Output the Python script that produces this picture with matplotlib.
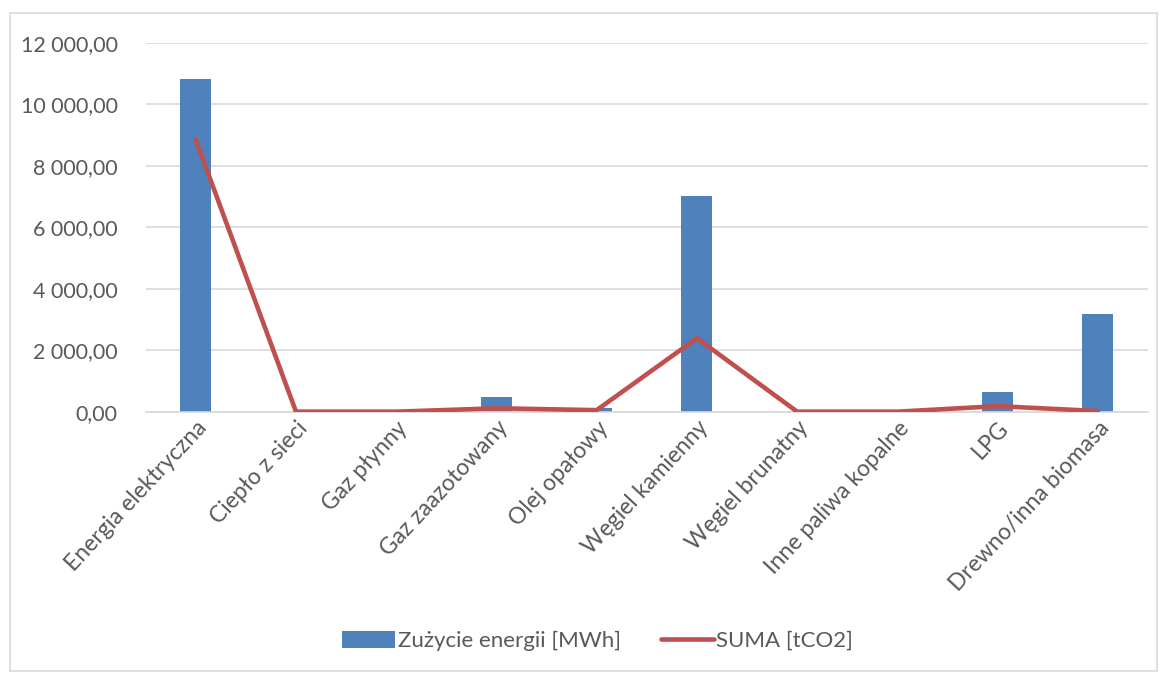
import matplotlib
matplotlib.use('Agg')
import matplotlib.pyplot as plt
import matplotlib.ticker as mticker
from matplotlib.patches import Rectangle
import numpy as np

kategorie = ['Energia elektryczna', 'Ciepło z sieci', 'Gaz płynny', 'Gaz zaazotowany',
             'Olej opałowy', 'Węgiel kamienny', 'Węgiel brunatny', 'Inne paliwa kopalne',
             'LPG', 'Drewno/inna biomasa']
zuzycie_mwh = [10820, 0, 0, 490, 110, 7010, 0, 0, 650, 3170]
suma_tco2 = [8840, 0, 0, 110, 50, 2390, 0, 0, 180, 20]

plt.rcParams['font.family'] = ['Lato', 'DejaVu Sans']
kolor_tekstu = '#595959'

fig = plt.figure(figsize=(11.65, 6.73), dpi=100)
ax = fig.add_axes([0.125, 0.3883, 0.8604, 0.5483])

# ramka wokół całego wykresu
fig.patches.append(Rectangle((0.009, 0.003), 0.984, 0.978, transform=fig.transFigure,
                             fill=False, edgecolor='#d9d9d9', linewidth=1.2))

x = np.arange(len(kategorie))
slupki = ax.bar(x, zuzycie_mwh, width=0.31, color='#4f81bd', zorder=2,
                label='Zużycie energii [MWh]')
linia, = ax.plot(x, suma_tco2, color='#c0504d', linewidth=3.3, zorder=3,
                 solid_capstyle='round', solid_joinstyle='round', label='SUMA [tCO2]')

ax.set_xlim(-0.5, len(kategorie) - 0.5)
ax.set_ylim(0, 12000)
ax.yaxis.set_major_locator(mticker.MultipleLocator(2000))
ax.yaxis.set_major_formatter(mticker.FuncFormatter(
    lambda v, p: f'{v:,.2f}'.replace(',', ' ').replace('.', ',')))
ax.grid(axis='y', color='#d9d9d9', linewidth=1.2, zorder=0)
for s in ['top', 'right', 'left']:
    ax.spines[s].set_visible(False)
ax.spines['bottom'].set_color('#d9d9d9')
ax.spines['bottom'].set_linewidth(1.2)
ax.tick_params(axis='y', length=0, pad=20, labelsize=15.5, labelcolor=kolor_tekstu)
ax.tick_params(axis='x', length=0, pad=4, labelsize=16.5, labelcolor=kolor_tekstu)
ax.set_xticks(x)
ax.set_xticklabels(kategorie, rotation=47, ha='right', rotation_mode='anchor')

ax.legend(handles=[slupki, linia], loc='center', bbox_to_anchor=(0.513, 0.0475),
          bbox_transform=fig.transFigure, ncol=2, frameon=False, fontsize=16,
          labelcolor=kolor_tekstu, handlelength=2.4, handleheight=0.8,
          handletextpad=0.1, columnspacing=1.8)

fig.savefig('out.png', dpi=100)
